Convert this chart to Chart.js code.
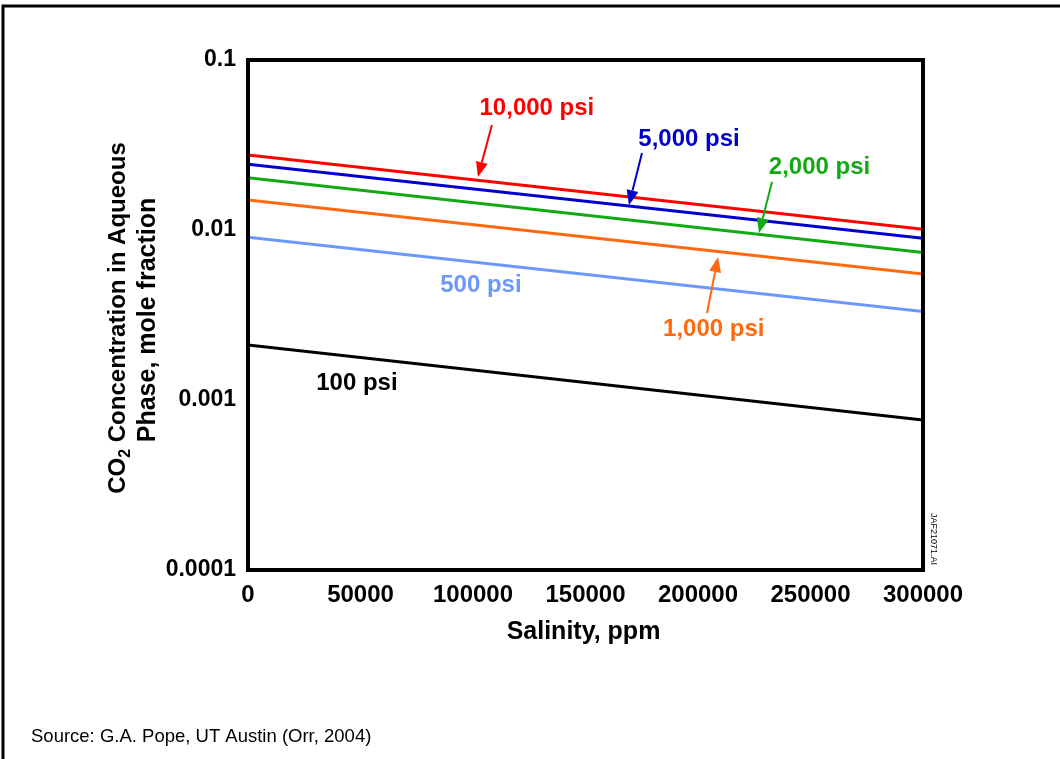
<!DOCTYPE html>
<html>
<head>
<meta charset="utf-8">
<script src="https://cdn.jsdelivr.net/npm/chart.js@4/dist/chart.umd.min.js"></script>
<style>
  html, body { margin: 0; padding: 0; background: #fff; }
  #wrap { position: relative; width: 1060px; height: 759px; }
</style>
</head>
<body>
<div id="wrap"><canvas id="co2chart" width="1060" height="759"></canvas></div>
<script>
// salinity, ppm (x) - end points of each line
var salinity = [0, 300000];

// CO2 mole fraction in aqueous phase
var p10000 = [0.0276, 0.0101];
var p5000 = [0.0244, 0.00893];
var p2000 = [0.0203, 0.00736];
var p1000 = [0.0150, 0.00551];
var p500 = [0.00906, 0.00331];
var p100 = [0.00211, 0.000762];

var xTicks = [0, 50000, 100000, 150000, 200000, 250000, 300000];
var yTicks = [0.0001, 0.001, 0.01, 0.1];
var yTickLabels = ['0.0001', '0.001', '0.01', '0.1'];

var FONT = '"Liberation Sans", Arial, Helvetica, sans-serif';

function pts(vals) {
    return salinity.map(function(s, i) { return {x: s, y: vals[i]}; });
}

function line(label, vals, color) {
    return {
        label: label,
        data: pts(vals),
        borderColor: color,
        backgroundColor: color,
        borderWidth: 3,
        pointRadius: 0,
        fill: false,
        tension: 0
    };
}

// labels + arrows, in data units (ppm, mole fraction)
var notes = [
    {text: '10,000 psi', color: '#ff0000', x: 128400, y: 0.0522, arrow: [108400, 0.0415, 102200, 0.0205]},
    {text: '5,000 psi', color: '#0000cc', x: 196000, y: 0.0343, arrow: [175100, 0.0284, 169300, 0.0140]},
    {text: '2,000 psi', color: '#11aa11', x: 254000, y: 0.0235, arrow: [232900, 0.0192, 227100, 0.0096]},
    {text: '1,000 psi', color: '#ff6a10', x: 207000, y: 0.00262, arrow: [204000, 0.00325, 208900, 0.00693]},
    {text: '500 psi', color: '#6b98ff', x: 103500, y: 0.00475},
    {text: '100 psi', color: '#000000', x: 48400, y: 0.00126}
];

var decorPlugin = {
    id: 'decor',
    afterDatasetsDraw: function(chart) {
        var ctx = chart.ctx;
        var a = chart.chartArea;
        var xs = chart.scales.x, ys = chart.scales.y;
        ctx.save();

        // plot frame
        ctx.strokeStyle = '#000';
        ctx.lineWidth = 4;
        ctx.strokeRect(a.left, a.top, a.right - a.left, a.bottom - a.top);

        // outer page frame (top and left edges)
        ctx.lineWidth = 3;
        ctx.beginPath();
        ctx.moveTo(3, 759);
        ctx.lineTo(3, 6);
        ctx.lineTo(1060, 6);
        ctx.stroke();

        // annotations
        ctx.textAlign = 'center';
        ctx.textBaseline = 'middle';
        ctx.font = 'bold 24px ' + FONT;
        notes.forEach(function(n) {
            ctx.fillStyle = n.color;
            ctx.fillText(n.text, xs.getPixelForValue(n.x), ys.getPixelForValue(n.y));
            if (n.arrow) {
                var x0 = xs.getPixelForValue(n.arrow[0]), y0 = ys.getPixelForValue(n.arrow[1]);
                var x1 = xs.getPixelForValue(n.arrow[2]), y1 = ys.getPixelForValue(n.arrow[3]);
                var ang = Math.atan2(y1 - y0, x1 - x0);
                var hl = 15, hw = 6;
                ctx.strokeStyle = n.color;
                ctx.lineWidth = 2;
                ctx.beginPath();
                ctx.moveTo(x0, y0);
                ctx.lineTo(x1 - hl * Math.cos(ang), y1 - hl * Math.sin(ang));
                ctx.stroke();
                ctx.beginPath();
                ctx.moveTo(x1, y1);
                ctx.lineTo(x1 - hl * Math.cos(ang) + hw * Math.sin(ang), y1 - hl * Math.sin(ang) - hw * Math.cos(ang));
                ctx.lineTo(x1 - hl * Math.cos(ang) - hw * Math.sin(ang), y1 - hl * Math.sin(ang) + hw * Math.cos(ang));
                ctx.closePath();
                ctx.fill();
            }
        });

        // axis titles
        ctx.fillStyle = '#000';
        ctx.font = 'bold 25px ' + FONT;
        ctx.fillText('Salinity, ppm', (a.left + a.right) / 2 - 2, 632);

        ctx.save();
        ctx.translate(118, 318);
        ctx.rotate(-Math.PI / 2);
        var big = 'bold 24px ' + FONT, small = 'bold 16px ' + FONT;
        ctx.font = big;
        var w1 = ctx.measureText('CO').width;
        var w3 = ctx.measureText(' Concentration in Aqueous').width;
        ctx.font = small;
        var w2 = ctx.measureText('2').width;
        var sx = -(w1 + w2 + w3) / 2;
        ctx.textAlign = 'left';
        ctx.font = big;
        ctx.fillText('CO', sx, 0);
        ctx.font = small;
        ctx.fillText('2', sx + w1, 8);
        ctx.font = big;
        ctx.fillText(' Concentration in Aqueous', sx + w1 + w2, 0);
        ctx.restore();

        ctx.save();
        ctx.translate(148, 320);
        ctx.rotate(-Math.PI / 2);
        ctx.font = 'bold 25px ' + FONT;
        ctx.fillText('Phase, mole fraction', 0, 0);
        ctx.restore();

        // drawing id
        ctx.save();
        ctx.translate(933, 539);
        ctx.rotate(Math.PI / 2);
        ctx.font = '9px ' + FONT;
        ctx.fillText('JAF21071.AI', 0, 0);
        ctx.restore();

        // source note
        ctx.textAlign = 'left';
        ctx.font = '18.5px ' + FONT;
        ctx.fillText('Source: G.A. Pope, UT Austin (Orr, 2004)', 31, 737);

        ctx.restore();
    }
};

var ctx = document.getElementById('co2chart').getContext('2d');
var co2Chart = new Chart(ctx, {
    type: 'line',
    data: {
        datasets: [
            line('10,000 psi', p10000, '#ff0000'),
            line('5,000 psi', p5000, '#0000cc'),
            line('2,000 psi', p2000, '#11aa11'),
            line('1,000 psi', p1000, '#ff6a10'),
            line('500 psi', p500, '#6b98ff'),
            line('100 psi', p100, '#000000')
        ]
    },
    options: {
        responsive: false,
        animation: false,
        layout: { padding: { left: 0, top: 60, right: 137, bottom: 0 } },
        plugins: {
            legend: { display: false },
            tooltip: { enabled: false }
        },
        scales: {
            x: {
                type: 'linear',
                min: 0,
                max: 300000,
                grid: { display: false, drawTicks: false },
                border: { display: false },
                afterFit: function(scale) { scale.height = 189; },
                afterBuildTicks: function(scale) {
                    scale.ticks = xTicks.map(function(v) { return {value: v}; });
                },
                ticks: {
                    color: '#000',
                    padding: 11,
                    maxRotation: 0,
                    autoSkip: false,
                    font: { family: FONT, size: 24, weight: 'bold' },
                    callback: function(v) { return String(v); }
                }
            },
            y: {
                type: 'logarithmic',
                min: 0.0001,
                max: 0.1,
                grid: { display: false, drawTicks: false },
                border: { display: false },
                afterFit: function(scale) { scale.width = 248; },
                afterBuildTicks: function(scale) {
                    scale.ticks = yTicks.map(function(v) { return {value: v}; });
                },
                ticks: {
                    color: '#000',
                    padding: 12,
                    autoSkip: false,
                    font: { family: FONT, size: 23, weight: 'bold' },
                    callback: function(v, i) { return yTickLabels[i]; }
                }
            }
        }
    },
    plugins: [decorPlugin]
});
</script>
</body>
</html>
